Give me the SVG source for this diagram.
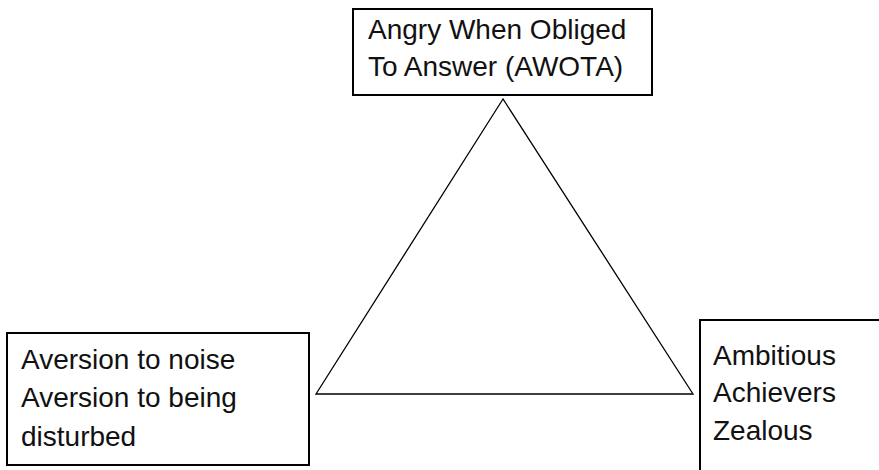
<svg xmlns="http://www.w3.org/2000/svg" width="879" height="470" viewBox="0 0 879 470">
<style>
.box{fill:#fff;stroke:#000;stroke-width:2}
.lbl{font-family:"Liberation Sans",Arial,sans-serif;font-size:28px;fill:#111}
.tri{fill:none;stroke:#000;stroke-width:1.3}
</style>
<rect width="879" height="470" fill="#fff"/>
<g id="connectors">
<polygon class="tri" points="503,99 316,394 693,394"/>
</g>
<g id="node-awota">
<rect class="box" x="353" y="9" width="299" height="86"/>
<text class="lbl" x="368" y="39">Angry When Obliged</text>
<text class="lbl" x="368" y="76">To Answer (AWOTA)</text>
</g>
<g id="node-aversion">
<rect class="box" x="7" y="333" width="302" height="132"/>
<text class="lbl" x="21" y="369">Aversion to noise</text>
<text class="lbl" x="21" y="407">Aversion to being</text>
<text class="lbl" x="21" y="446">disturbed</text>
</g>
<g id="node-ambitious">
<rect class="box" x="700" y="320" width="190" height="160"/>
<text class="lbl" x="713" y="365">Ambitious</text>
<text class="lbl" x="713" y="402">Achievers</text>
<text class="lbl" x="713" y="440">Zealous</text>
</g>
</svg>
